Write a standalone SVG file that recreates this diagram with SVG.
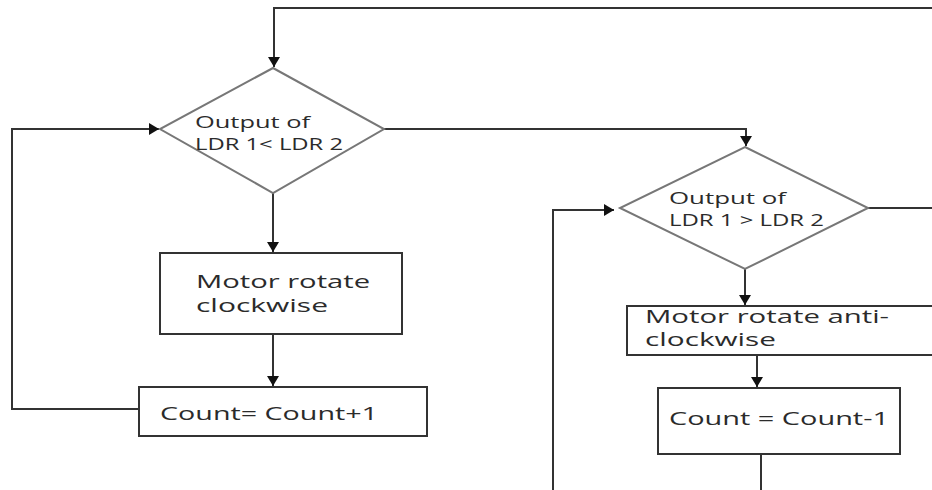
<svg xmlns="http://www.w3.org/2000/svg" width="932" height="490" viewBox="0 0 932 490">
<style>
.bg{fill:#fff}
.dia{fill:#fff;stroke:#777;stroke-width:2}
.box{fill:#fff;stroke:#333;stroke-width:2}
.con{fill:none;stroke:#333;stroke-width:2}
.t{font-family:"Open Sans","Noto Sans",sans-serif;fill:#2b2b2b}
.s{font-size:16px}
.m{font-size:17.5px}
.l{font-size:19px}
</style>
<defs>
<marker id="ah" markerUnits="userSpaceOnUse" markerWidth="10" markerHeight="12" viewBox="0 0 10 12" refX="10" refY="6" orient="auto">
<path d="M0,0 L10,6 L0,12 z" fill="#111"/>
</marker>
</defs>
<rect class="bg" x="0" y="0" width="932" height="490"/>
<g id="connectors">
<path class="con" d="M932,8 H274 V67" marker-end="url(#ah)"/>
<path class="con" d="M139,409 H12 V129 H159" marker-end="url(#ah)"/>
<path class="con" d="M273,193 V252" marker-end="url(#ah)"/>
<path class="con" d="M273,334 V386" marker-end="url(#ah)"/>
<path class="con" d="M384,129 H746 V146" marker-end="url(#ah)"/>
<path class="con" d="M868,208 H932"/>
<path class="con" d="M553,490 V210 H614" marker-end="url(#ah)"/>
<path class="con" d="M745,269 V305" marker-end="url(#ah)"/>
<path class="con" d="M757,355 V387" marker-end="url(#ah)"/>
<path class="con" d="M761,454 V490"/>
</g>
<g id="decision1">
<polygon class="dia" points="273,68 384,129 273,193 160,129"/>
<text class="t s" x="195" y="128" textLength="115" lengthAdjust="spacingAndGlyphs">Output of</text>
<text class="t s" x="195" y="150" textLength="148" lengthAdjust="spacingAndGlyphs">LDR 1&lt; LDR 2</text>
</g>
<g id="motor-cw">
<rect class="box" x="160" y="253" width="242" height="81"/>
<text class="t m" x="196" y="288" textLength="174" lengthAdjust="spacingAndGlyphs">Motor rotate</text>
<text class="t m" x="196" y="312" textLength="132" lengthAdjust="spacingAndGlyphs">clockwise</text>
</g>
<g id="count-inc">
<rect class="box" x="139" y="387" width="288" height="49"/>
<text class="t l" x="160" y="420" textLength="218" lengthAdjust="spacingAndGlyphs">Count= Count+1</text>
</g>
<g id="decision2">
<polygon class="dia" points="745,147 868,208 745,269 620,208"/>
<text class="t s" x="669" y="204" textLength="117" lengthAdjust="spacingAndGlyphs">Output of</text>
<text class="t s" x="669" y="226" textLength="155" lengthAdjust="spacingAndGlyphs">LDR 1 &gt; LDR 2</text>
</g>
<g id="motor-acw">
<rect class="box" x="627" y="306" width="320" height="49"/>
<text class="t m" x="645" y="323" textLength="244" lengthAdjust="spacingAndGlyphs">Motor rotate anti-</text>
<text class="t m" x="645" y="346" textLength="131" lengthAdjust="spacingAndGlyphs">clockwise</text>
</g>
<g id="count-dec">
<rect class="box" x="658" y="388" width="242" height="66"/>
<text class="t l" x="669" y="425" textLength="220" lengthAdjust="spacingAndGlyphs">Count = Count-1</text>
</g>
</svg>
